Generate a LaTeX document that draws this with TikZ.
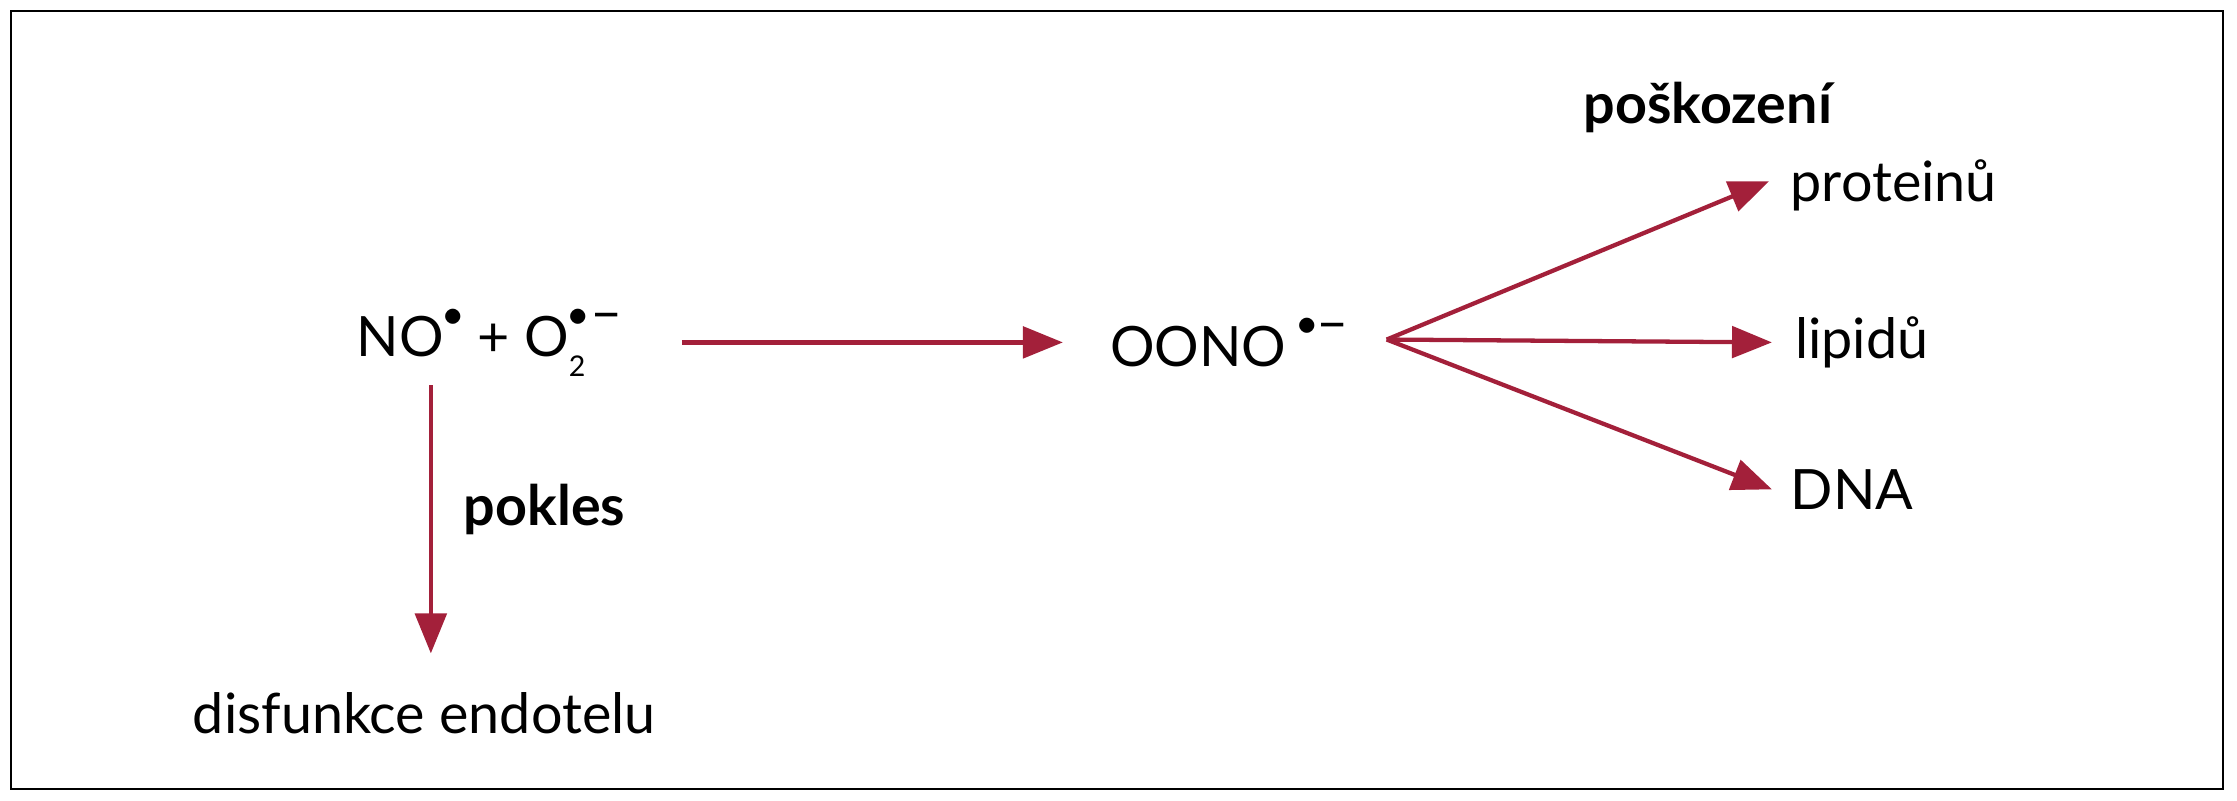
\documentclass[tikz,border=0pt]{standalone}
\usepackage{fontspec}
\setmainfont{Lato}
\usetikzlibrary{arrows.meta}
\definecolor{arr}{HTML}{A3203A}
\newcommand{\rdot}{\raisebox{0.55em}{\scalebox{1.1}{$\bullet$}}}
\begin{document}
\begin{tikzpicture}[x=1pt,y=-1pt,
  txt/.style={font=\fontsize{39}{46}\selectfont, inner sep=0pt, anchor=west},
  bld/.style={txt, font=\fontsize{39}{46}\selectfont\bfseries},
  arrw/.style={draw=arr, line width=3pt, -{Triangle[length=28pt,width=22pt]}}]
\useasboundingbox (0,0) rectangle (1568,561);
\draw[line width=1.5pt] (8,8) rectangle (1558,553);
\node[txt] (a) at (250,240) {NO\rdot\ + O\rlap{\rdot}\raisebox{-0.35em}{\fontsize{20}{20}\selectfont 2}\kern0.1em\raisebox{0.45em}{–}};
\node[txt] (b) at (778,240) {OONO\kern0.2em\rdot\raisebox{0.45em}{–}};
\node[bld] (p) at (1110,75) {poškození};
\node[txt] (c) at (1255,130) {proteinů};
\node[txt] (d) at (1258,240) {lipidů};
\node[txt] (e) at (1255,343) {DNA};
\node[bld] (k) at (325,357) {pokles};
\node[txt] (f) at (135,500) {disfunkce endotelu};
\coordinate (s) at (972,238);
\coordinate (t) at (745,240);
\draw[arrw] (478,240) -- (t);
\draw[arrw] (s) -- (1240,127);
\draw[arrw] (s) -- (1242,240);
\draw[arrw] (s) -- (1242,343);
\draw[arrw] (302,270) -- (302,458);
\end{tikzpicture}
\end{document}
